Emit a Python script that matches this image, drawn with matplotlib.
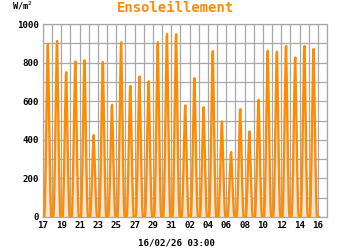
import numpy as np
import matplotlib
matplotlib.use("Agg")
import matplotlib.pyplot as plt

# daily peak of solar radiation (W/m2), 17/01 .. 15/02
day_labels = ["17", "18", "19", "20", "21", "22", "23", "24", "25", "26",
              "27", "28", "29", "30", "31", "01", "02", "03", "04", "05",
              "06", "07", "08", "09", "10", "11", "12", "13", "14", "15"]
day_peaks = [897, 912, 750, 805, 812, 424, 803, 581, 905, 679,
             728, 703, 905, 948, 947, 578, 719, 569, 859, 495,
             336, 559, 443, 607, 862, 857, 886, 826, 886, 871]

# typical shape of a day, hour 0 .. 23 (fraction of the peak)
day_shape = [0, 0, 0, 0, 0.02, 0.08, 0.18, 0.30, 0.43, 0.57, 0.72, 0.87,
             0.98, 1.0, 0.88, 0.73, 0.58, 0.43, 0.30, 0.18, 0.08, 0.02, 0, 0]

xtick_labels = ["17", "19", "21", "23", "25", "27", "29", "31",
                "02", "04", "06", "08", "10", "12", "14", "16"]

orange = "#ff8c00"
mono = "DejaVu Sans Mono"

t = []
vals = []
for d, pk in enumerate(day_peaks):
    for h, f in enumerate(day_shape):
        if d == 0 and h < 3:
            continue
        t.append(d + h / 24.0)
        vals.append(pk * f)
# last hours up to 16/02 03:00
for h in range(4):
    t.append(len(day_peaks) + h / 24.0)
    vals.append(0)
t = np.array(t)
vals = np.array(vals)

fig = plt.figure(figsize=(3.5, 2.5), dpi=100)
ax = fig.add_axes([43/350, 1-217/250, (327-43)/350, (217-24)/250])

ax.fill_between(t, vals, 0, color="#ebe7e3", lw=0, zorder=1)
ax.plot(t, vals, color=orange, lw=1.7, zorder=3)

ax.set_xlim(0, 31)
ax.set_ylim(0, 1000)
ax.set_xticks(np.arange(0, 31, 2))
ax.set_xticklabels(xtick_labels)
ax.set_xticks(np.arange(0, 32, 1), minor=True)
ax.set_yticks(np.arange(0, 1001, 200))
ax.set_yticks(np.arange(0, 1001, 100), minor=True)
ax.grid(True, which="both", color="#a8a8a8", lw=0.9, zorder=0)
ax.set_axisbelow(True)
ax.tick_params(which="both", length=0, pad=3, labelsize=6.6)
for lab in ax.get_xticklabels() + ax.get_yticklabels():
    lab.set_family(mono)
    lab.set_weight("bold")
for s in ax.spines.values():
    s.set_color("#a8a8a8")
    s.set_linewidth(0.9)

fig.text(175/350, 1-8/250, "Ensoleillement", color=orange, family=mono,
         weight="bold", fontsize=10, ha="center", va="center")
fig.text(22/350, 1-6/250, "W/m$^2$", family=mono, weight="bold",
         fontsize=6.2, ha="center", va="center")
fig.text(176/350, 1-243/250, "16/02/26 03:00", family=mono, weight="bold",
         fontsize=6.6, ha="center", va="center")

fig.savefig("out.png", dpi=100)
